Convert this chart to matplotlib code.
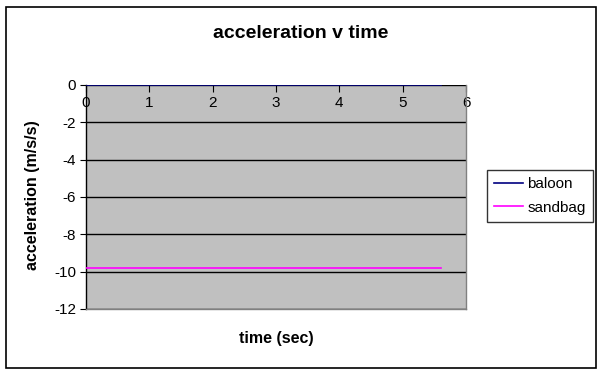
import matplotlib
matplotlib.use("Agg")
import matplotlib.pyplot as plt
from matplotlib.patches import Rectangle

plt.rcParams['font.family'] = ['Liberation Sans', 'DejaVu Sans']
plt.rcParams['axes.unicode_minus'] = False

time_s = [0, 5.6]
baloon = [0, 0]
sandbag = [-9.8, -9.8]
x_ticks = [0, 1, 2, 3, 4, 5, 6]
y_ticks = [0, -2, -4, -6, -8, -10, -12]

W, H = 602, 375
fig = plt.figure(figsize=(W / 100, H / 100), dpi=100)
fig.patch.set_facecolor('white')
fig.patches.append(Rectangle((6 / W, 7 / H), 590 / W, 361 / H, transform=fig.transFigure,
                             fill=False, edgecolor='black', linewidth=1.2))

ax = fig.add_axes([86 / W, 1 - 309 / H, 380 / W, 224 / H])
ax.set_facecolor('#C0C0C0')
ax.set_xlim(0, 6)
ax.set_ylim(-12, 0)
ax.set_yticks(y_ticks)
ax.set_xticks(x_ticks)
for y in y_ticks:
    ax.axhline(y, color='black', linewidth=1, zorder=1)

ax.plot(time_s, baloon, color='#000080', linewidth=1.2, label='baloon', zorder=3)
ax.plot(time_s, sandbag, color='#FF00FF', linewidth=1.2, label='sandbag', zorder=3)

ax.spines['left'].set_color('black')
ax.spines['left'].set_linewidth(1)
for s in ['right', 'bottom']:
    ax.spines[s].set_color('#808080')
    ax.spines[s].set_linewidth(1)
ax.spines['top'].set_visible(False)

ax.tick_params(axis='x', top=True, bottom=False, labeltop=True, labelbottom=False,
               direction='in', length=5, pad=-18, labelsize=11, color='black')
ax.tick_params(axis='y', direction='out', length=4, labelsize=11, pad=3)

ax.set_xlabel('time (sec)', fontsize=11.5, fontweight='bold')
ax.xaxis.set_label_coords(0.5, -0.1)
ax.set_ylabel('acceleration (m/s/s)', fontsize=11.5, fontweight='bold')
ax.yaxis.set_label_coords(-0.12, 0.51)

fig.text(301 / W, 1 - 33 / H, 'acceleration v time', ha='center', va='center',
         fontsize=14, fontweight='bold')

leg = ax.legend(loc='upper left', bbox_to_anchor=(487 / W, 1 - 170 / H),
                bbox_transform=fig.transFigure, frameon=True, fancybox=False,
                edgecolor='black', fontsize=11, handlelength=1.9, borderpad=0.45,
                labelspacing=0.65, handletextpad=0.3, borderaxespad=0)
leg.get_frame().set_linewidth(1)

fig.savefig('out.png', dpi=100)
